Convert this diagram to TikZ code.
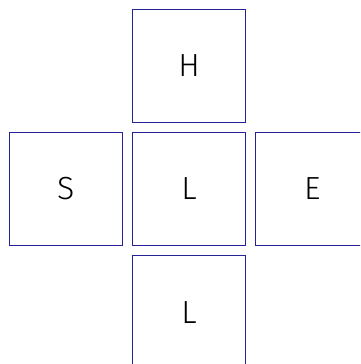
\documentclass[tikz,border=0pt]{standalone}
\usepackage{fontspec}
\setmainfont{Fira Sans Light}
\usepackage{xcolor}
\usepackage{tikz}
\usetikzlibrary{positioning}
\definecolor{boxblue}{RGB}{35,35,150}

\begin{document}
\begin{tikzpicture}[
  x=1pt, y=1pt,
  node distance=9.5pt and 9.5pt,
  box/.style={draw=boxblue, line width=0.8pt, minimum width=113pt, minimum height=113pt, inner sep=0pt, font=\fontsize{32}{36}\selectfont}
]
\clip (0,0) rectangle (360,-364);
\useasboundingbox (0,0) rectangle (360,-364);
\node[box] (mid) at (189,-189) {L};
\node[box, above=of mid] (top) {H};
\node[box, left=of mid] (west) {S};
\node[box, right=of mid] (east) {E};
\node[box, below=of mid] (bottom) {L};
\end{tikzpicture}
\end{document}
